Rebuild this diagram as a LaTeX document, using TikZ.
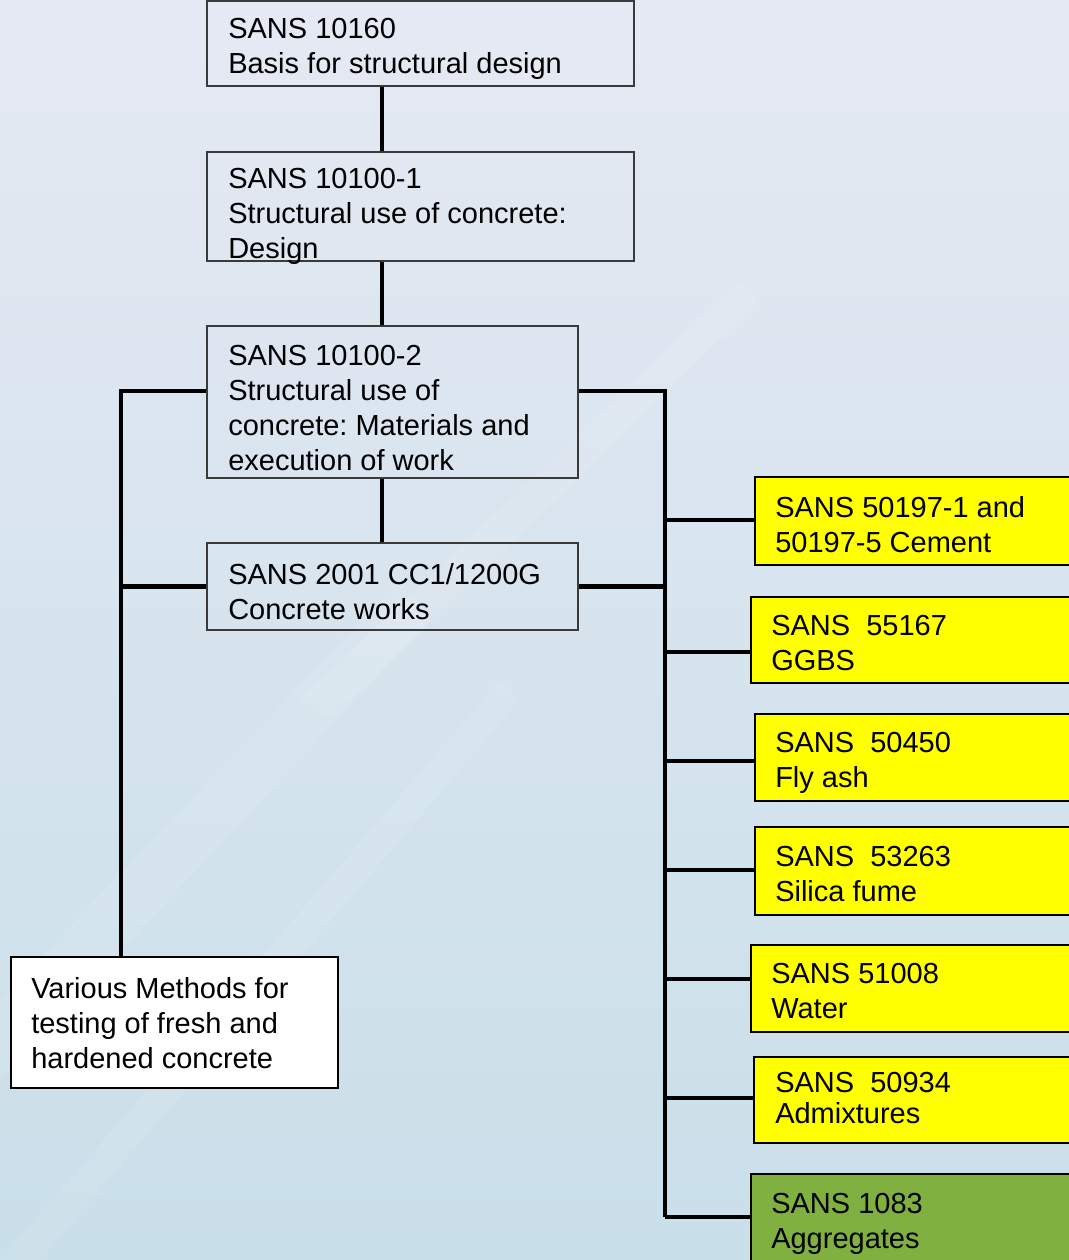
\documentclass[tikz,border=0pt]{standalone}
\usepackage{fontspec}
\setmainfont{Liberation Sans}
\usetikzlibrary{fit}
\frenchspacing

\definecolor{bgtop}{HTML}{E5E9F3}
\definecolor{bgmid}{HTML}{DEE6F0}
\definecolor{bgbot}{HTML}{C9DFE9}
\definecolor{lemon}{HTML}{FFFF00}
\definecolor{leaf}{HTML}{80B040}
\definecolor{edgegrey}{HTML}{3A3A3A}

\tikzset{
  frame/.style={rectangle, draw=edgegrey, line width=1.5pt, inner sep=0pt},
  plainframe/.style={frame},
  whiteframe/.style={frame, draw=black, fill=white},
  yellowframe/.style={frame, draw=black, fill=lemon},
  greenframe/.style={frame, draw=black, fill=leaf},
  lbl/.style={anchor=north west, inner sep=0pt, align=left,
              font=\fontsize{21.75}{26.25}\selectfont},
  bus/.style={draw=black, line width=3.2pt},
  streak/.style={white, opacity=0.09}
}

\begin{document}
\begin{tikzpicture}[x=0.75pt,y=-0.75pt]
\useasboundingbox (0,0) rectangle (1069,1260);

% backdrop
\shade[top color=bgtop, middle color=bgmid, bottom color=bgbot]
  (0,0) rectangle (1069,1260);
\fill[streak] (0,1000) -- (0,1080) -- (430,620) -- (400,580) -- cycle;
\fill[streak] (0,1260) -- (40,1260) -- (520,700) -- (500,680) -- cycle;
\fill[streak] (300,700) -- (330,720) -- (760,300) -- (740,280) -- cycle;

% main chain of boxes
\node[plainframe, fit={(207,1) (634,86)}] (b1) {};
\node[plainframe, fit={(207,152) (634,261)}] (b2) {};
\node[plainframe, fit={(207,326) (578,478)}] (b3) {};
\node[plainframe, fit={(207,543) (578,630)}] (b4) {};
\node[whiteframe, fit={(11,957) (338,1088)}] (b5) {};

% material boxes
\node[yellowframe, fit={(755,477) (1075,565)}] (y6) {};
\node[yellowframe, fit={(751,597) (1075,683)}] (y7) {};
\node[yellowframe, fit={(755,714) (1075,801)}] (y8) {};
\node[yellowframe, fit={(755,827) (1075,915)}] (y9) {};
\node[yellowframe, fit={(751,945) (1075,1032)}] (y10) {};
\node[yellowframe, fit={(754,1057) (1075,1143)}] (y11) {};
\node[greenframe, fit={(751,1174) (1075,1270)}] (y12) {};

% labels
\node[lbl] (t1) at (228,18) {SANS 10160\\Basis for structural design};
\node[lbl] (t2) at (228,168) {SANS 10100-1\\Structural use of concrete:\\Design};
\node[lbl] (t3) at (228,345) {SANS 10100-2\\Structural use of\\concrete: Materials and\\execution of work};
\node[lbl] (t4) at (228,563) {SANS 2001 CC1/1200G\\Concrete works};
\node[lbl] (t5) at (31,977) {Various Methods for\\testing of fresh and\\hardened concrete};
\node[lbl] (t6) at (775,496) {SANS 50197-1 and\\50197-5 Cement};
\node[lbl] (t7) at (771,615) {SANS\ \ 55167\\GGBS};
\node[lbl] (t8) at (775,732) {SANS\ \ 50450\\Fly ash};
\node[lbl] (t9) at (775,846) {SANS\ \ 53263\\Silica fume};
\node[lbl] (t10) at (771,963) {SANS 51008\\Water};
\node[lbl, font=\fontsize{21.75}{23.25}\selectfont] (t11) at (775,1072) {SANS\ \ 50934\\Admixtures};
\node[lbl] (t12) at (771,1193) {SANS 1083\\Aggregates};

% junction points
\coordinate (sp) at (382,0);
\coordinate (lt) at (121,391);
\coordinate (rt) at (665,391);
\coordinate (j6) at (665,520);
\coordinate (j7) at (665,652);
\coordinate (j8) at (665,761);
\coordinate (j9) at (665,870);
\coordinate (j10) at (665,979);
\coordinate (j11) at (665,1098);
\coordinate (j12) at (665,1217);

% spine
\draw[bus] (b1.south -| sp) -- (b2.north -| sp);
\draw[bus] (b2.south -| sp) -- (b3.north -| sp);
\draw[bus] (b3.south -| sp) -- (b4.north -| sp);

% left branch to testing methods
\draw[bus] (b3.west |- lt) -- (lt) -- (lt |- b5.north);
\draw[bus] (b4.west) -- (b4.west -| lt);

% right branch to materials
\draw[bus] (b3.east |- rt) -- (rt) -- (j12);
\draw[bus] (b4.east) -- (b4.east -| rt);
\draw[bus] (j6) -- (j6 -| y6.west);
\draw[bus] (j7) -- (j7 -| y7.west);
\draw[bus] (j8) -- (j8 -| y8.west);
\draw[bus] (j9) -- (j9 -| y9.west);
\draw[bus] (j10) -- (j10 -| y10.west);
\draw[bus] (j11) -- (j11 -| y11.west);
\draw[bus] (j12) -- (j12 -| y12.west);
\end{tikzpicture}
\end{document}
